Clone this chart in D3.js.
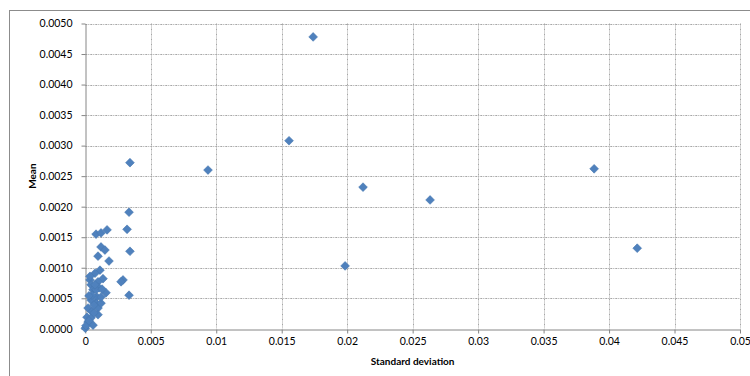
<!DOCTYPE html>
<html><head><meta charset="utf-8">
<script src="https://cdn.jsdelivr.net/npm/d3@7/dist/d3.min.js"></script>
<style>body{margin:0;background:#fff;}svg{display:block;}</style>
</head><body>
<svg id="chart" width="750" height="376"></svg>
<script>
// Standard deviation (x) and mean (y) of each observation
const stdDev = [
  0.01740,0.01556,0.00937,0.02121,0.02633,0.03886,0.04215,0.01984,
  0.00341,0.00334,0.00319,0.00341,0.00288,0.00273,0.00334,
  0.00082,0.00120,0.00166,0.00120,0.00150,0.00097,0.00181,0.00112,0.00074,0.00135,
  0.00158,0.00036,0.00044,0.00059,0.00097,0.00105,0.00089,0.00082,0.00044,0.00021,
  0.00051,0.00097,0.00097,0.00013,0.00021,0.00000,0.00044,0.00059,0.00082,0.00120,
  0.00120,0.00036,0.00005,0.00028,0.00066,0.00051,0.00074,0.00128,0.00028,0.00066
];
const mean = [
  0.00478,0.00308,0.00260,0.00232,0.00211,0.00262,0.00132,0.00103,
  0.00272,0.00191,0.00163,0.00127,0.00080,0.00077,0.00055,
  0.00155,0.00157,0.00162,0.00134,0.00129,0.00119,0.00111,0.00096,0.00091,0.00082,
  0.00059,0.00080,0.00072,0.00064,0.00077,0.00067,0.00052,0.00042,0.00047,0.00034,
  0.00028,0.00034,0.00023,0.00019,0.00011,0.00001,0.00018,0.00006,0.00064,0.00042,
  0.00052,0.00086,0.00005,0.00013,0.00026,0.00055,0.00072,0.00065,0.00054,0.00039
];
const xTicks = [0,0.005,0.01,0.015,0.02,0.025,0.03,0.035,0.04,0.045,0.05];
const xTickLabels = ["0","0.005","0.01","0.015","0.02","0.025","0.03","0.035","0.04","0.045","0.05"];
const yTicks = [0,0.0005,0.001,0.0015,0.002,0.0025,0.003,0.0035,0.004,0.0045,0.005];
const yTickLabels = ["0.0000","0.0005","0.0010","0.0015","0.0020","0.0025","0.0030","0.0035","0.0040","0.0045","0.0050"];
const xTitle = "Standard deviation";
const yTitle = "Mean";

const svg = d3.select("#chart");
const font = "Lato, 'Open Sans', sans-serif";
const L = 85.3, R = 740, T = 23.5, B = 328.8;

// outer chart border
svg.append("rect").attr("x",9.5).attr("y",10.5).attr("width",760).attr("height",400)
  .attr("fill","none").attr("stroke","#8c8c8c").attr("stroke-width",1);

const x = d3.scaleLinear().domain([0,0.05]).range([L,R]);
const y = d3.scaleLinear().domain([0,0.005]).range([B,T]);

const grid = svg.append("g");
grid.selectAll("line.h").data(yTicks.slice(1)).join("line")
  .attr("x1",L).attr("x2",R).attr("y1",d=>Math.round(y(d))+0.5).attr("y2",d=>Math.round(y(d))+0.5)
  .attr("stroke","#a6a6a6").attr("stroke-dasharray","2,1,1,1");
grid.selectAll("line.v").data(xTicks.slice(1)).join("line")
  .attr("y1",T).attr("y2",B).attr("x1",d=>Math.round(x(d))+0.5).attr("x2",d=>Math.round(x(d))+0.5)
  .attr("stroke","#a6a6a6").attr("stroke-dasharray","2,1,1,1");

const xAxis = svg.append("g").attr("transform",`translate(0,${Math.round(B)+0.5})`)
  .call(d3.axisBottom(x).tickValues(xTicks).tickFormat((d,i)=>xTickLabels[i]).tickSize(4).tickSizeOuter(0));
const yAxis = svg.append("g").attr("transform",`translate(${Math.round(L)+0.5},0)`)
  .call(d3.axisLeft(y).tickValues(yTicks).tickFormat((d,i)=>yTickLabels[i]).tickSize(4).tickSizeOuter(0));
[xAxis,yAxis].forEach(a=>{
  a.select(".domain").attr("stroke","#868686");
  a.selectAll(".tick line").attr("stroke","#868686");
  a.selectAll(".tick text").attr("fill","#000").style("font-family",font).style("font-size","10.5px");
});
xAxis.selectAll(".tick text").attr("dy","0.9em").attr("y",6);
yAxis.selectAll(".tick text").attr("x",-13);

const pts = stdDev.map((d,i)=>({sx:d,m:mean[i]}));
const sym = d3.symbol().type(d3.symbolSquare).size(38);
svg.append("g").selectAll("path").data(pts).join("path")
  .attr("d",sym)
  .attr("transform",d=>`translate(${x(d.sx)},${y(d.m)}) rotate(45)`)
  .attr("fill","#4F81BD").attr("stroke","#4676b0").attr("stroke-width",0.6);

svg.append("text").attr("x",(L+R)/2).attr("y",365).attr("text-anchor","middle")
  .style("font-family",font).style("font-size","10px").style("font-weight","bold").text(xTitle);
svg.append("text").attr("transform",`translate(36,${(T+B)/2}) rotate(-90)`).attr("text-anchor","middle")
  .style("font-family",font).style("font-size","10px").style("font-weight","bold").text(yTitle);
</script>
</body></html>
